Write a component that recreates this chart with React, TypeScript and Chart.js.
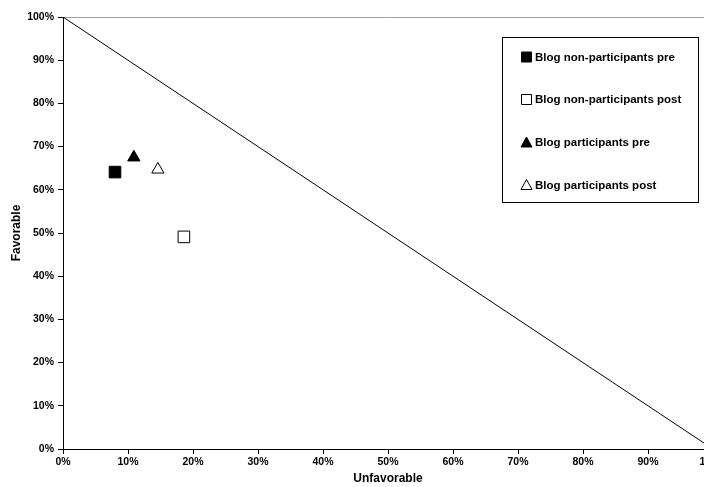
import React, { useEffect, useRef } from "react";
import { Chart, registerables } from "chart.js";

Chart.register(...registerables);

const seriesNames = [
  "Blog non-participants pre",
  "Blog non-participants post",
  "Blog participants pre",
  "Blog participants post",
];
const unfavorable = [8.0, 18.6, 10.9, 14.6];
const favorable = [64.1, 49.1, 67.5, 64.7];
const xTickValues = [0, 10, 20, 30, 40, 50, 60, 70, 80, 90, 100];
const diagonalX = [0, 100];
const diagonalY = [100, 0];

const markerStyles = [
  { shape: "rect", fill: "#000000", radius: 8.2 },
  { shape: "rect", fill: "#ffffff", radius: 8.2 },
  { shape: "triangle", fill: "#000000", radius: 7.1 },
  { shape: "triangle", fill: "#ffffff", radius: 7.1 },
];

const FONT = "'Liberation Sans', Arial, sans-serif";

const legendPlugin = {
  id: "boxLegend",
  afterDraw(chart: any) {
    const ctx = chart.ctx;
    ctx.save();
    ctx.strokeStyle = "#000";
    ctx.lineWidth = 1;
    ctx.strokeRect(502.5, 37.5, 196, 165);
    const rows = [57, 99.5, 142.5, 185];
    ctx.font = `bold 11.5px ${FONT}`;
    ctx.textBaseline = "middle";
    ctx.textAlign = "left";
    seriesNames.forEach((name, i) => {
      const y = rows[i];
      const st = markerStyles[i];
      const cx = 526.5;
      ctx.fillStyle = st.fill;
      ctx.strokeStyle = "#000";
      ctx.lineWidth = 1;
      ctx.beginPath();
      if (st.shape === "rect") {
        ctx.rect(cx - 5, y - 5, 10, 10);
      } else {
        ctx.moveTo(cx, y - 5.5);
        ctx.lineTo(cx + 5.5, y + 4.5);
        ctx.lineTo(cx - 5.5, y + 4.5);
        ctx.closePath();
      }
      ctx.fill();
      ctx.stroke();
      ctx.fillStyle = "#000";
      ctx.fillText(name, 535, y + 0.5);
    });
    ctx.restore();
  },
};

export default function App() {
  const ref = useRef<HTMLCanvasElement>(null);
  useEffect(() => {
    document.body.style.margin = "0";
    const canvas = ref.current;
    if (!canvas) return;
    const datasets: any[] = seriesNames.map((name, i) => ({
      type: "scatter",
      label: name,
      data: [{ x: unfavorable[i], y: favorable[i] }],
      pointStyle: markerStyles[i].shape,
      pointRadius: markerStyles[i].radius,
      pointBackgroundColor: markerStyles[i].fill,
      pointBorderColor: "#000",
      pointBorderWidth: 1,
      order: 0,
    }));
    datasets.push({
      type: "line",
      label: "diagonal",
      data: diagonalX.map((x, i) => ({ x, y: diagonalY[i] })),
      borderColor: "#000",
      borderWidth: 1,
      pointRadius: 0,
      fill: false,
      order: 1,
    });
    const chart = new Chart(canvas, {
      type: "scatter",
      data: { datasets },
      options: {
        animation: false,
        responsive: false,
        devicePixelRatio: window.devicePixelRatio || 1,
        layout: { padding: { top: 17, right: 17, left: 0, bottom: 0 } },
        plugins: { legend: { display: false }, tooltip: { enabled: false } },
        scales: {
          x: {
            type: "linear",
            min: 0,
            max: 100,
            afterFit: (s: any) => {
              s.height = 38;
            },
            afterBuildTicks: (s: any) => {
              s.ticks = xTickValues.map((v) => ({ value: v }));
            },
            ticks: {
              color: "#000",
              font: { family: FONT, size: 10.5, weight: "bold" },
              padding: 2,
              maxRotation: 0,
              callback: (v: any) => v + "%",
            },
            grid: {
              drawOnChartArea: false,
              drawTicks: true,
              tickLength: 5,
              tickColor: "#000",
              tickWidth: 1,
            },
            border: { display: true, color: "#000", width: 1 },
            title: {
              display: true,
              text: "Unfavorable",
              color: "#000",
              font: { family: FONT, size: 12, weight: "bold" },
              padding: { top: 0, bottom: 1 },
            },
          },
          y: {
            type: "linear",
            min: 0,
            max: 100,
            afterFit: (s: any) => {
              s.width = 63;
            },
            ticks: {
              stepSize: 10,
              color: "#000",
              font: { family: FONT, size: 10.5, weight: "bold" },
              padding: 4,
              callback: (v: any) => v + "%",
            },
            grid: {
              drawOnChartArea: true,
              color: (c: any) => (c.tick && c.tick.value === 100 ? "#a0a0a0" : "rgba(0,0,0,0)"),
              drawTicks: true,
              tickLength: 5,
              tickColor: "#000",
              tickWidth: 1,
            },
            border: { display: true, color: "#000", width: 1 },
            title: {
              display: true,
              text: "Favorable",
              color: "#000",
              font: { family: FONT, size: 12, weight: "bold" },
              padding: { top: 9, bottom: 0 },
            },
          },
        },
      } as any,
      plugins: [legendPlugin],
    });
    return () => chart.destroy();
  }, []);
  return (
    <div style={{ width: 704, height: 487, overflow: "hidden", position: "relative", background: "#fff" }}>
      <canvas ref={ref} width={730} height={487} style={{ display: "block" }} />
    </div>
  );
}
